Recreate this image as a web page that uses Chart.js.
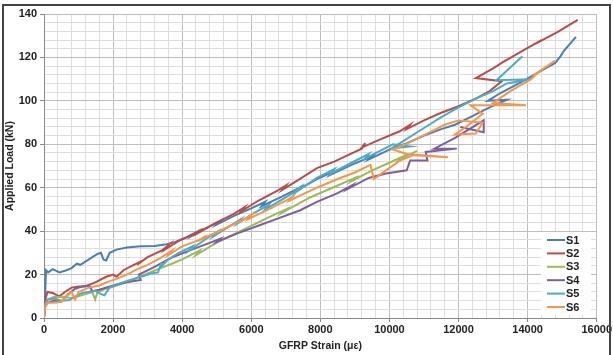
<!DOCTYPE html>
<html>
<head>
<meta charset="utf-8">
<script src="https://cdn.jsdelivr.net/npm/chart.js@4.4.1/dist/chart.umd.min.js"></script>
<style>
  html, body { margin: 0; padding: 0; background: #fff; }
  #wrap { position: relative; width: 613px; height: 355px; overflow: hidden; }
  #frame {
    position: absolute; left: 2px; top: 4px; width: 605px; height: 360px;
    border: 2px solid #444; border-bottom: none; pointer-events: none;
  }
</style>
</head>
<body>
<div id="wrap">
  <canvas id="strainChart" width="613" height="355"></canvas>
  <div id="frame"></div>
</div>
<script>
// --- DATA (strain in µε, load in kN) ---
const seriesNames = ["S1", "S2", "S3", "S4", "S5", "S6"];
const seriesColors = ["#4a7ebb", "#be4b48", "#9bbb59", "#7d5fa0", "#4bacc6", "#f79646"];

const s1Strain = [0, 30, 60, 120, 250, 450, 650, 800, 950, 1050, 1200, 1400, 1550, 1650, 1720, 1800, 1900, 2100, 2400, 2800, 3200, 3500, 3800, 4100, 4400, 4300, 4700, 5100, 5000, 5500, 6000, 6400, 6300, 6900, 7400, 7300, 7900, 8400, 8300, 8900, 9500, 9400, 10000, 10500, 11000, 11500, 11900, 12400, 12900, 13400, 12850, 13200, 13800, 14300, 14800, 14950, 15050, 15400];
const s1Load = [0, 10, 22, 21, 22.5, 21, 22, 23, 25, 24.5, 26, 28, 29.5, 30, 27, 26.5, 30, 31.5, 32.5, 33, 33.2, 33.8, 35, 37, 39.5, 38, 41.5, 44.5, 43, 47, 50.5, 53.5, 51.5, 56, 60, 58.5, 64, 67.5, 66, 70.5, 74.5, 73, 77.5, 80.5, 84, 87, 89, 93, 97, 100.5, 100, 103.5, 108.5, 113, 117.5, 120.5, 123, 129.5];

const s2Strain = [0, 30, 100, 250, 450, 600, 800, 1000, 1200, 1500, 1800, 2000, 2100, 2300, 2600, 2800, 2700, 3000, 3400, 3600, 3500, 3900, 4400, 4600, 4500, 5000, 5500, 5800, 5700, 6200, 6800, 7000, 6900, 7400, 7900, 8400, 8800, 9200, 9300, 9200, 9700, 10300, 10600, 10500, 11000, 11500, 12000, 12500, 12900, 13250, 12500, 13000, 13400, 13250, 13900, 14400, 14250, 14900, 15450];
const s2Load = [0, 8, 12, 11.5, 10, 12, 14, 14.5, 14.5, 16.5, 19, 20, 19, 22, 24.5, 26, 24.5, 28, 31, 33.5, 31.5, 35.5, 39, 41, 39.5, 44, 48, 51, 49, 54, 59, 61, 59, 64, 69, 72, 75, 78, 80.5, 78.5, 82, 86, 89, 87, 91, 94.5, 97.5, 101, 104.5, 109, 110.5, 115, 119, 117.5, 123.5, 128, 126.5, 132, 137.3];

const s3Strain = [0, 30, 100, 300, 600, 800, 1000, 1200, 1400, 1480, 1550, 1800, 2100, 2400, 2700, 3000, 3300, 3700, 4000, 4500, 4400, 5000, 5500, 6000, 6500, 7000, 6900, 7700, 8500, 9000, 8900, 9500, 10000, 10400, 10300, 10800];
const s3Load = [0, 6, 8.5, 9.8, 9.5, 9.2, 10, 11, 12, 8.5, 12, 13.5, 15, 16.5, 18.5, 20.5, 22.5, 25, 27, 31, 29, 34.7, 38.6, 42.4, 46.3, 50, 48.5, 55.5, 61, 64.5, 63, 68, 71.5, 74.5, 73, 77];

const s4Strain = [0, 30, 100, 300, 500, 700, 900, 1100, 1300, 1400, 1300, 1600, 2000, 2400, 2800, 2750, 3200, 3650, 4200, 4700, 5100, 5000, 5600, 6200, 6800, 7400, 7900, 8500, 8900, 8800, 9400, 9900, 10500, 10600, 11100, 11050, 11950, 11300, 11900, 12730, 12730, 12050];
const s4Load = [0, 5, 7, 8, 7.5, 11, 13.5, 14.5, 15, 12.5, 12, 13, 15, 16.5, 17.5, 20, 23.5, 27.5, 31, 34, 36.5, 35, 39, 42.5, 46, 49.5, 53.5, 57.5, 61, 59.5, 64.5, 66.5, 68, 72.5, 72.5, 76.5, 78, 78, 83, 91, 85.5, 88];

const s5Strain = [0, 30, 100, 300, 500, 750, 900, 1100, 1300, 1500, 1650, 1750, 1900, 2200, 2500, 2800, 3100, 3300, 3400, 3350, 3600, 3900, 4300, 4200, 4700, 5000, 4900, 5400, 5700, 5600, 6100, 6500, 6400, 7000, 7400, 7300, 7900, 8400, 8300, 8900, 9400, 9300, 9800, 10100, 10600, 10050, 10400, 11000, 11500, 12000, 12500, 13000, 13400, 14100, 13100, 13850];
const s5Load = [0, 6, 8.5, 9, 8, 8.3, 10, 11.5, 12, 12.5, 11, 10.5, 14, 16, 17.5, 19, 20.5, 21, 25.5, 23, 27, 30, 33, 31, 36.5, 39.5, 37.5, 42.5, 45.5, 43.5, 48.5, 52, 50, 55.5, 60, 58, 64.5, 68.5, 66.5, 71.5, 75.5, 73.5, 77.5, 80, 79, 78, 81.5, 87.5, 92.5, 97, 101, 104.5, 108, 110, 109.5, 120.5];

const s6Strain = [0, 30, 100, 300, 500, 650, 800, 900, 1000, 1300, 1600, 1900, 2100, 2400, 2700, 3000, 3300, 3500, 3700, 3600, 4000, 4500, 4700, 4600, 5200, 5800, 6000, 5900, 6500, 7000, 7200, 7100, 7900, 8500, 9000, 9450, 9550, 9900, 10300, 10700, 11700, 10500, 10100, 10600, 11100, 11600, 12000, 12700, 12500, 11900, 12300, 12700, 12350, 13950, 13000, 13500, 14100, 14300, 14150, 14800];
const s6Load = [0, 5, 7, 7, 7.5, 10, 12, 8.5, 12, 14, 15, 17, 18, 20, 22.5, 24.5, 27, 29, 31, 29, 33, 36, 38, 36.5, 41, 45.5, 47.5, 45.5, 50, 54, 56, 54, 60, 64, 67, 70.5, 64, 68, 72.5, 75, 74, 75.5, 77.5, 81, 85, 89, 91, 90, 85, 84.5, 89, 94, 98, 98, 99, 104.5, 110, 113, 111.5, 118.5];

const strainSets = [s1Strain, s2Strain, s3Strain, s4Strain, s5Strain, s6Strain];
const loadSets = [s1Load, s2Load, s3Load, s4Load, s5Load, s6Load];

const xTicksMajor = [0, 2000, 4000, 6000, 8000, 10000, 12000, 14000, 16000];
const yTicksMajor = [0, 20, 40, 60, 80, 100, 120, 140];

document.addEventListener("DOMContentLoaded", () => {
  const FONT = "'Liberation Sans', Arial, sans-serif";
  const isMajorX = (v) => xTicksMajor.includes(v);
  const isMajorY = (v) => yTicksMajor.includes(v);

  // Legend drawn inside the plot, bottom right (like Excel)
  const insideLegend = {
    id: "insideLegend",
    afterDraw(chart) {
      const ctx = chart.ctx;
      ctx.save();
      ctx.fillStyle = "#fff";
      ctx.fillRect(541, 232, 50, 83);
      ctx.font = `bold 11px ${FONT}`;
      ctx.textBaseline = "middle";
      chart.data.datasets.forEach((ds, i) => {
        const y = 240 + i * 13.4;
        ctx.strokeStyle = ds.borderColor;
        ctx.lineWidth = 2;
        ctx.beginPath();
        ctx.moveTo(547, y);
        ctx.lineTo(565, y);
        ctx.stroke();
        ctx.fillStyle = "#222";
        ctx.fillText(ds.label, 566, y + 0.5);
      });
      ctx.restore();
    },
  };

  const datasets = seriesNames.map((name, i) => ({
    label: name,
    data: strainSets[i].map((x, k) => ({ x: x, y: loadSets[i][k] })),
    borderColor: seriesColors[i],
    backgroundColor: seriesColors[i],
    borderWidth: 2,
    pointRadius: 0,
    showLine: true,
    tension: 0,
    order: seriesNames.length - i,
  }));

  new Chart(document.getElementById("strainChart"), {
    type: "scatter",
    data: { datasets: datasets },
    options: {
      responsive: false,
      devicePixelRatio: 1,
      animation: false,
      layout: { padding: { left: 0, right: 16, top: 14, bottom: 0 } },
      plugins: { legend: { display: false }, tooltip: { enabled: false } },
      scales: {
        x: {
          type: "linear",
          min: 0,
          max: 16000,
          afterFit: (scale) => { scale.height = 37; },
          ticks: {
            stepSize: 400,
            autoSkip: false,
            maxRotation: 0,
            padding: 1,
            color: "#222",
            font: { family: FONT, size: 11, weight: "bold" },
            callback: (v) => (isMajorX(v) ? String(v) : ""),
          },
          grid: {
            color: (c) => (c.tick && isMajorX(c.tick.value) ? "#bdbdbd" : "#dedede"),
            tickColor: (c) => (c.tick && isMajorX(c.tick.value) ? "#888" : "rgba(0,0,0,0)"),
            tickLength: 4,
          },
          border: { color: "#888", width: 1 },
          title: {
            display: true,
            text: "GFRP Strain (με)",
            color: "#222",
            font: { family: FONT, size: 10.5, weight: "bold" },
            padding: { top: 0, bottom: 3 },
          },
        },
        y: {
          type: "linear",
          min: 0,
          max: 140,
          afterFit: (scale) => { scale.width = 44; },
          ticks: {
            stepSize: 4,
            autoSkip: false,
            padding: 3,
            color: "#222",
            font: { family: FONT, size: 11, weight: "bold" },
            callback: (v) => (isMajorY(v) ? String(v) : ""),
          },
          grid: {
            color: (c) => (c.tick && isMajorY(c.tick.value) ? "#bdbdbd" : "#dedede"),
            tickColor: (c) => (c.tick && isMajorY(c.tick.value) ? "#888" : "rgba(0,0,0,0)"),
            tickLength: 4,
          },
          border: { color: "#888", width: 1 },
          title: {
            display: true,
            text: "Applied Load (kN)",
            color: "#222",
            font: { family: FONT, size: 10.5, weight: "bold" },
            padding: { top: 4, bottom: 0 },
          },
        },
      },
    },
    plugins: [insideLegend],
  });
});
</script>
</body>
</html>
